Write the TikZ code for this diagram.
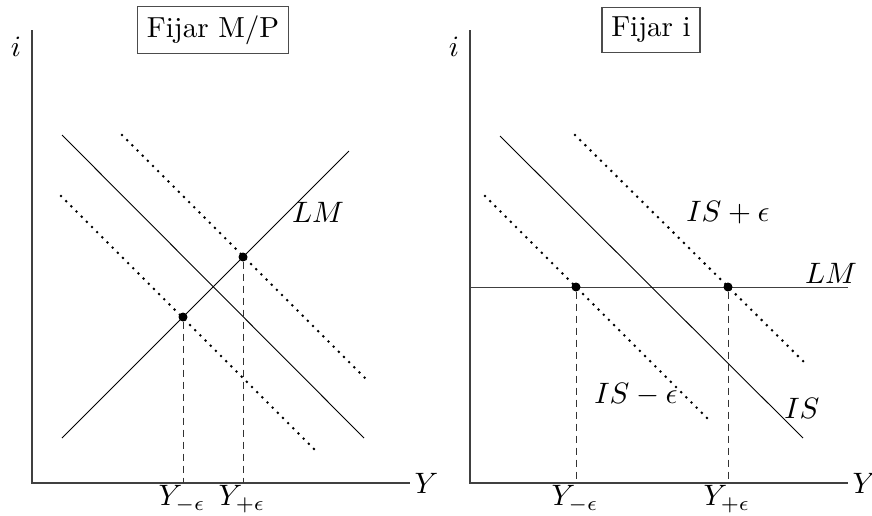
\documentclass[tikz,border=0pt]{standalone}
\begin{document}
\begin{tikzpicture}[x=1pt,y=-1pt,
  lbl/.style={scale=2.95, inner sep=0pt},
  titlebox/.style={scale=2.9, draw=black!70, line width=1.1pt, inner sep=3.2pt},
  axis/.style={line width=1.4pt, draw=black!75},
  curve/.style={line width=0.9pt},
  dotline/.style={line width=2.9pt, line cap=round, dash pattern=on 0pt off 7.3pt},
  guide/.style={line width=1pt, dash pattern=on 7pt off 5pt, draw=black!80},
  pt/.style={circle, fill=black, inner sep=0pt, minimum size=9pt}]
\useasboundingbox (0,0) rectangle (872,515);
% ---------- left panel ----------
\coordinate (Ltop) at (32,30);
\coordinate (Lorig) at (32,483);
\coordinate (Lend) at (410,483);
\draw[axis] (Ltop) -- (Lorig) -- (Lend);
\node[lbl] (Li) at (16,47) {$i$};
\node[lbl, anchor=west] (LY) at (414,483) {$Y$};
\node[titlebox] (Ltitle) at (213,30) {Fijar M/P};
\coordinate (LISa) at (62,135);
\coordinate (LISb) at (364,438);
\coordinate (LLMa) at (62,438);
\coordinate (LLMb) at (349,151);
\coordinate (LUa) at (122,135);
\coordinate (LUb) at (365,378);
\coordinate (LDa) at (61,196);
\coordinate (LDb) at (319,454);
\draw[curve] (LISa) -- (LISb);
\draw[curve] (LLMa) -- (LLMb);
\draw[dotline] (LUa) -- (LUb);
\draw[dotline] (LDa) -- (LDb);
\node[pt] (Lm) at (183,317) {};
\node[pt] (Lp) at (243,257) {};
\coordinate (Lmx) at (183,483);
\coordinate (Lpx) at (243,483);
\draw[guide] (Lm) -- (Lmx);
\draw[guide] (Lp) -- (Lpx);
\node[lbl, anchor=north] (LYm) at (182,485) {$Y_{-\epsilon}$};
\node[lbl, anchor=north] (LYp) at (242,485) {$Y_{+\epsilon}$};
\node[lbl] (LLM) at (318,212) {$LM$};
% ---------- right panel ----------
\coordinate (Rtop) at (470,30);
\coordinate (Rorig) at (470,483);
\coordinate (Rend) at (848,483);
\draw[axis] (Rtop) -- (Rorig) -- (Rend);
\node[lbl] (Ri) at (454,47) {$i$};
\node[lbl, anchor=west] (RY) at (852,483) {$Y$};
\node[titlebox] (Rtitle) at (651,30) {Fijar i};
\coordinate (RLMa) at (470,287);
\coordinate (RLMb) at (848,287);
\coordinate (RISa) at (500,136);
\coordinate (RISb) at (803,438);
\coordinate (RUa) at (575,135);
\coordinate (RUb) at (804,362);
\coordinate (RDa) at (485,196);
\coordinate (RDb) at (712,423);
\draw[curve, draw=black!75, line width=1pt] (RLMa) -- (RLMb);
\draw[curve] (RISa) -- (RISb);
\draw[dotline] (RUa) -- (RUb);
\draw[dotline] (RDa) -- (RDb);
\node[pt] (Rm) at (576,287) {};
\node[pt] (Rp) at (728,287) {};
\coordinate (Rmx) at (576,483);
\coordinate (Rpx) at (728,483);
\draw[guide] (Rm) -- (Rmx);
\draw[guide] (Rp) -- (Rpx);
\node[lbl, anchor=north] (RYm) at (575,485) {$Y_{-\epsilon}$};
\node[lbl, anchor=north] (RYp) at (727,485) {$Y_{+\epsilon}$};
\node[lbl] (RLM) at (831,273) {$LM$};
\node[lbl] (RISplus) at (728,213) {$IS+\epsilon$};
\node[lbl] (RISminus) at (636,395) {$IS-\epsilon$};
\node[lbl] (RIS) at (802,408) {$IS$};
\end{tikzpicture}
\end{document}
